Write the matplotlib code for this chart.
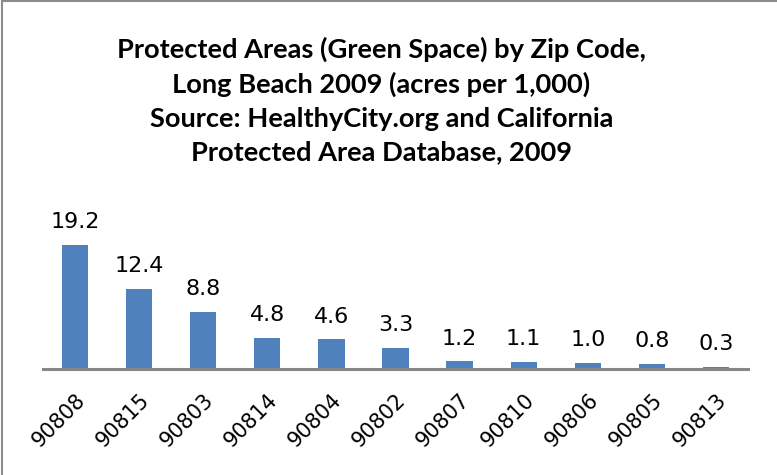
import matplotlib.pyplot as plt
from matplotlib.patches import Rectangle

zip_codes = ['90808', '90815', '90803', '90814', '90804', '90802',
             '90807', '90810', '90806', '90805', '90813']
acres_per_1000 = [19.2, 12.4, 8.8, 4.8, 4.6, 3.3, 1.2, 1.1, 1.0, 0.8, 0.3]

title = ('Protected Areas (Green Space) by Zip Code,\n'
         'Long Beach 2009 (acres per 1,000)\n'
         'Source: HealthyCity.org and California\n'
         'Protected Area Database, 2009')

plt.rcParams['font.family'] = ['Lato', 'DejaVu Sans']

fig = plt.figure(figsize=(7.77, 4.75), dpi=100)
ax = fig.add_axes([0.0553, 0.2232, 0.9074, 0.3537])

x = range(len(zip_codes))
ax.bar(x, acres_per_1000, width=0.41, color='#4F81BD', zorder=2)
for xi, v in zip(x, acres_per_1000):
    ax.annotate(f'{v:.1f}', (xi, v), xytext=(0, 12), textcoords='offset points',
                ha='center', va='baseline', fontsize=16, family='DejaVu Sans')

ax.set_xlim(-0.5, len(zip_codes) - 0.5)
ax.set_ylim(0, 26)
ax.set_yticks([])
ax.set_xticks(list(x))
ax.set_xticklabels(zip_codes, rotation=45, ha='right', rotation_mode='anchor',
                   fontsize=15, family='DejaVu Sans')
ax.tick_params(axis='x', length=0, pad=15)
for side in ['left', 'right', 'top']:
    ax.spines[side].set_visible(False)
ax.spines['bottom'].set_color('#868686')
ax.spines['bottom'].set_linewidth(2.2)

fig.text(0.491, 0.789, title, ha='center', va='center', fontsize=19.6,
         fontweight='bold', linespacing=1.47)

# chart frame (only top and left edges show in the crop)
fig.patches.append(Rectangle((0.003, -0.1), 1.1, 1.098, transform=fig.transFigure,
                             fill=False, edgecolor='#8c8c8c', linewidth=1.5))

fig.savefig('out.png', dpi=100)
